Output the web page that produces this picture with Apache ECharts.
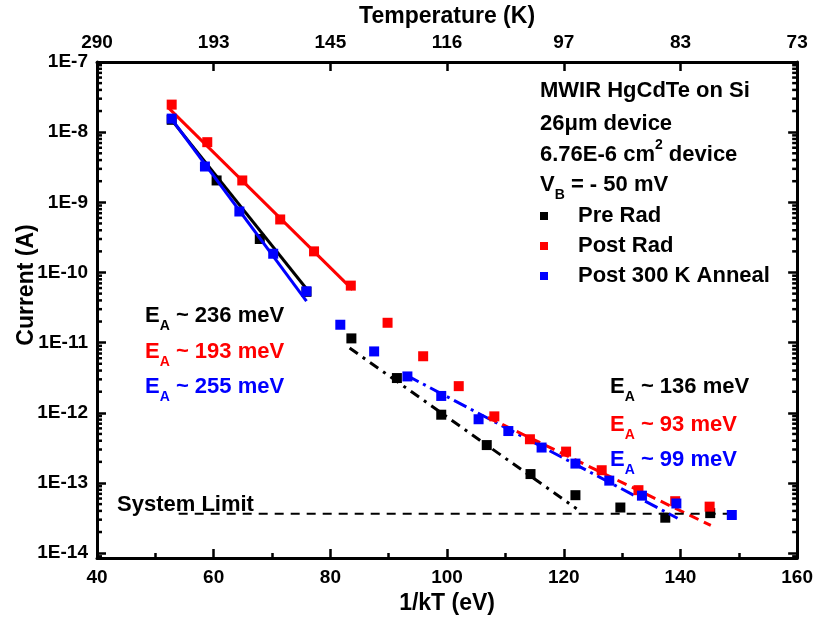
<!DOCTYPE html>
<html>
<head>
<meta charset="utf-8">
<script src="https://cdn.jsdelivr.net/npm/echarts@6/dist/echarts.min.js"></script>
<style>html,body{margin:0;padding:0;background:#fff}#c{width:816px;height:620px}</style>
</head>
<body>
<div id="c"></div>
<script>
// ---------- data ----------
const preRadX  = [52.8, 60.5, 67.9, 75.9, 83.6, 91.4, 99.0, 106.8, 114.3, 122.0, 129.7, 137.4, 145.1];
const preRadY  = [1.5e-8, 2.05e-9, 3.0e-10, 5.3e-11, 1.15e-11, 3.13e-12, 9.4e-13, 3.47e-13, 1.34e-13, 6.7e-14, 4.47e-14, 3.2e-14, 3.72e-14];

const postRadX = [52.8, 58.9, 64.9, 71.4, 77.2, 83.5, 89.8, 95.9, 102.0, 108.1, 114.2, 120.4, 126.5, 132.8, 139.1, 145.0];
const postRadY = [2.47e-8, 7.2e-9, 2.05e-9, 5.7e-10, 2.0e-10, 6.5e-11, 1.92e-11, 6.4e-12, 2.4e-12, 8.9e-13, 4.2e-13, 2.8e-13, 1.52e-13, 7.9e-14, 5.5e-14, 4.6e-14];

const annealX  = [52.8, 58.5, 64.4, 70.2, 75.9, 81.7, 87.5, 93.2, 99.0, 105.4, 110.5, 116.2, 122.0, 127.8, 133.4, 139.3, 148.8];
const annealY  = [1.56e-8, 3.24e-9, 7.4e-10, 1.85e-10, 5.4e-11, 1.8e-11, 7.5e-12, 3.3e-12, 1.74e-12, 8.1e-13, 5.5e-13, 3.2e-13, 1.89e-13, 1.08e-13, 6.6e-14, 5.1e-14, 3.5e-14];

// fit lines (end points)
const preFitHighX  = [52.5, 75.8];   const preFitHighY  = [1.6e-8, 6.0e-11];
const postFitHighX = [52.3, 83.8];   const postFitHighY = [2.2e-8, 5.7e-11];
const annFitHighX  = [52.4, 75.9];   const annFitHighY  = [1.7e-8, 3.9e-11];
const preFitLowX   = [83.3, 122.2];  const preFitLowY   = [8.4e-12, 4.3e-14];
const annFitLowX   = [93.0, 139.5];  const annFitLowY   = [3.44e-12, 3.14e-14];
const postFitLowX  = [107.0, 145.2]; const postFitLowY  = [8.6e-13, 2.48e-14];
const sysLimitX    = [54.0, 149.5];  const sysLimitY    = [3.65e-14, 3.65e-14];

// axes
const xTicks = [40, 60, 80, 100, 120, 140, 160];
const tempLabels = ['290', '193', '145', '116', '97', '83', '73'];
const yTickLabels = ['1E-14', '1E-13', '1E-12', '1E-11', '1E-10', '1E-9', '1E-8', '1E-7'];
const yMin = 8.5e-15, yMax = 1e-7;

// ---------- helpers ----------
const FONT = '"Liberation Sans", Arial, Helvetica, sans-serif';
const zip = (xs, ys) => xs.map((x, i) => [x, ys[i]]);
const minorVals = [];
for (let e = -15; e <= -8; e++) {
  for (let k = 2; k <= 9; k++) {
    const v = k * Math.pow(10, e);
    if (v > yMin && v < yMax) minorVals.push([40, v]);
  }
}

const axisLineStyle = { color: '#000', width: 3 };
const tickStyle = { color: '#000', width: 2.5 };
const labelStyle = { color: '#000', fontSize: 19, fontWeight: 'bold', fontFamily: FONT };

function yLabel(v) {
  const e = Math.log10(v);
  const r = Math.round(e);
  if (Math.abs(e - r) < 1e-6 && r >= -14 && r <= -7) return yTickLabels[r + 14];
  return '';
}

function lineSeries(name, data, color, type, width) {
  return {
    name, type: 'line', data, showSymbol: false, symbol: 'none', silent: true,
    lineStyle: { color, width, type }, z: 3, animation: false
  };
}
function scatterSeries(name, data, color, z) {
  return {
    name, type: 'scatter', data, symbol: 'rect', symbolSize: 10,
    itemStyle: { color, opacity: 1 }, z, animation: false
  };
}

const rich = {
  m: { fontSize: 22, fontWeight: 'bold', fontFamily: FONT, lineHeight: 34 },
  s: { fontSize: 14, fontWeight: 'bold', fontFamily: FONT, lineHeight: 12, verticalAlign: 'bottom' },
  p: { fontSize: 14, fontWeight: 'bold', fontFamily: FONT, lineHeight: 16, verticalAlign: 'top' }
};
function annot(x, y, text, color) {
  return {
    type: 'text', x, y, silent: true, z: 100,
    style: { text, rich, fill: color, align: 'left', verticalAlign: 'middle',
             font: 'bold 22px ' + FONT }
  };
}

const chart = echarts.init(document.getElementById('c'), null, { renderer: 'canvas' });
chart.setOption({
  animation: false,
  backgroundColor: '#fff',
  grid: { left: 97, right: 18, top: 62, bottom: 52, containLabel: false },
  xAxis: [
    {
      type: 'value', position: 'bottom', min: 40, max: 160, interval: 20,
      axisLine: { show: true, lineStyle: axisLineStyle },
      axisTick: { show: true, inside: true, length: 9, lineStyle: tickStyle },
      minorTick: { show: true, splitNumber: 2, length: 5, lineStyle: tickStyle },
      axisLabel: Object.assign({ margin: 10 }, labelStyle),
      splitLine: { show: false },
      name: '1/kT (eV)', nameLocation: 'middle', nameGap: 28,
      nameTextStyle: { color: '#000', fontSize: 23, fontWeight: 'bold', fontFamily: FONT }
    },
    {
      type: 'value', position: 'top', min: 40, max: 160, interval: 20,
      axisLine: { show: true, lineStyle: axisLineStyle },
      axisTick: { show: true, inside: true, length: 9, lineStyle: tickStyle },
      axisLabel: Object.assign({
        margin: 10,
        formatter: v => { const i = xTicks.indexOf(v); return i >= 0 ? tempLabels[i] : ''; }
      }, labelStyle),
      splitLine: { show: false },
      name: 'Temperature (K)', nameLocation: 'middle', nameGap: 28,
      nameTextStyle: { color: '#000', fontSize: 23, fontWeight: 'bold', fontFamily: FONT }
    }
  ],
  yAxis: [
    {
      type: 'log', logBase: 10, min: yMin, max: yMax, splitNumber: 7, position: 'left',
      axisLine: { show: true, lineStyle: axisLineStyle },
      axisTick: { show: true, inside: true, length: 9, lineStyle: tickStyle },
      axisLabel: Object.assign({ margin: 9, formatter: yLabel }, labelStyle),
      splitLine: { show: false }
    },
    {
      type: 'log', logBase: 10, min: yMin, max: yMax, splitNumber: 7, position: 'right',
      axisLine: { show: true, lineStyle: axisLineStyle },
      axisTick: { show: true, inside: true, length: 9, lineStyle: tickStyle },
      axisLabel: { show: false },
      splitLine: { show: false }
    }
  ],
  legend: {
    orient: 'vertical', left: 540, top: 205, padding: 0, itemWidth: 8, itemHeight: 8, itemGap: 8,
    icon: 'rect', selectedMode: false,
    data: ['Pre Rad', 'Post Rad', 'Post 300 K Anneal'],
    textStyle: { color: '#000', fontSize: 22, fontWeight: 'bold', fontFamily: FONT,
                 lineHeight: 22, padding: [0, 0, 0, 25] }
  },
  series: [
    scatterSeries('Pre Rad', zip(preRadX, preRadY), '#000000', 2),
    lineSeries('fitPreHigh', zip(preFitHighX, preFitHighY), '#000000', 'solid', 3),
    lineSeries('fitPostHigh', zip(postFitHighX, postFitHighY), '#ff0000', 'solid', 3),
    lineSeries('fitAnnHigh', zip(annFitHighX, annFitHighY), '#0000ff', 'solid', 3),
    lineSeries('fitPreLow', zip(preFitLowX, preFitLowY), '#000000', [10, 6, 3, 6], 3),
    lineSeries('fitAnnLow', zip(annFitLowX, annFitLowY), '#0000ff', [14, 5, 3, 5], 3),
    lineSeries('fitPostLow', zip(postFitLowX, postFitLowY), '#ff0000', [10, 6], 3),
    lineSeries('sysLimit', zip(sysLimitX, sysLimitY), '#000000', [9, 7], 2),
    scatterSeries('Post Rad', zip(postRadX, postRadY), '#ff0000', 4),
    scatterSeries('Post 300 K Anneal', zip(annealX, annealY), '#0000ff', 5),
    {
      name: 'minorTicks', type: 'custom', silent: true, clip: false, z: 10,
      data: minorVals, encode: { x: 0, y: 1 },
      renderItem: (params, api) => {
        const v = api.value(1);
        const pl = api.coord([40, v]);
        const pr = api.coord([160, v]);
        return {
          type: 'group',
          children: [
            { type: 'line', shape: { x1: pl[0], y1: pl[1], x2: pl[0] + 5, y2: pl[1] },
              style: { stroke: '#000', lineWidth: 2.5 } },
            { type: 'line', shape: { x1: pr[0], y1: pr[1], x2: pr[0] - 5, y2: pr[1] },
              style: { stroke: '#000', lineWidth: 2.5 } }
          ]
        };
      }
    }
  ],
  graphic: [
    { type: 'text', x: 27, y: 285, rotation: Math.PI / 2, silent: true,
      style: { text: 'Current (A)', fill: '#000', align: 'center', verticalAlign: 'middle',
               font: 'bold 23px ' + FONT } },
    annot(540, 91, '{m|MWIR HgCdTe on Si}', '#000'),
    annot(540, 124, '{m|26\u03bcm device}', '#000'),
    annot(540, 155, '{m|6.76E-6 cm}{p|2}{m| device}', '#000'),
    annot(540, 185, '{m|V}{s|B}{m| = - 50 mV}', '#000'),
    annot(145, 316, '{m|E}{s|A}{m| ~ 236 meV}', '#000'),
    annot(145, 352, '{m|E}{s|A}{m| ~ 193 meV}', '#ff0000'),
    annot(145, 387, '{m|E}{s|A}{m| ~ 255 meV}', '#0000ff'),
    annot(610, 387, '{m|E}{s|A}{m| ~ 136 meV}', '#000'),
    annot(610, 425, '{m|E}{s|A}{m| ~ 93 meV}', '#ff0000'),
    annot(610, 460, '{m|E}{s|A}{m| ~ 99 meV}', '#0000ff'),
    annot(117, 505, '{m|System Limit}', '#000')
  ]
});
</script>
</body>
</html>
